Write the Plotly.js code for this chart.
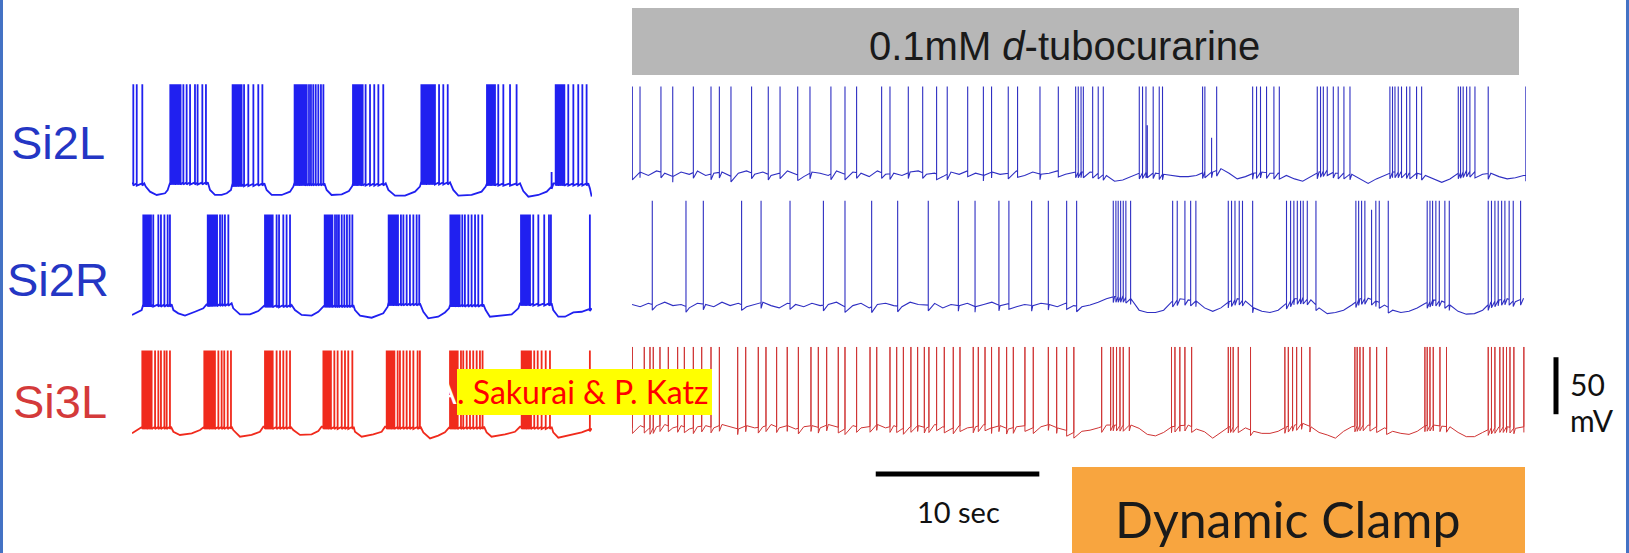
<!DOCTYPE html>
<html>
<head>
<meta charset="utf-8">
<script src="https://cdn.plot.ly/plotly-3.0.1.min.js"></script>
<style>html,body{margin:0;padding:0;background:#fff;}#chart{width:1629px;height:553px;}</style>
</head>
<body>
<div id="chart"></div>
<script>
// ===== DATA (time in s, membrane potential in mV) =====
// Control (left panels): baseline key points, spike times, spike peak
const si2lCtrlBaseT = [0.00,0.75,0.84,1.10,1.51,2.02,2.18,2.28,2.34,4.63,4.77,5.07,5.48,5.79,6.05,6.13,8.09,8.23,8.54,9.15,9.66,9.86,9.92,11.76,11.90,12.20,12.82,13.26,13.47,13.51,15.51,15.67,16.08,16.69,17.30,17.60,17.67,19.44,19.64,19.95,20.76,21.37,21.62,21.70,23.72,23.92,24.23,24.84,25.35,25.61,25.77,27.89,27.99,28.10];
const si2lCtrlBaseV = [-38.9,-38.9,-41.8,-46.2,-49.1,-47.6,-44.7,-40.4,-38.0,-38.0,-44.7,-49.1,-49.1,-47.6,-44.7,-39.8,-38.9,-44.7,-49.1,-49.1,-46.2,-41.8,-38.9,-38.9,-44.7,-49.1,-48.5,-45.6,-41.2,-38.9,-38.9,-44.7,-49.7,-49.7,-46.2,-41.8,-38.0,-38.0,-44.7,-49.7,-49.1,-46.2,-41.8,-38.9,-38.9,-45.6,-50.6,-49.1,-46.2,-42.7,-38.9,-38.9,-43.3,-50.6];
const si2lCtrlSpikeT = [0.08,0.29,0.63,
 2.34,2.40,2.47,2.53,2.59,2.65,2.73,2.81,2.89,2.97,3.14,3.34,3.55,3.85,4.01,4.30,4.52,
 6.15,6.21,6.28,6.34,6.40,6.46,6.54,6.62,6.70,6.85,7.11,7.42,7.72,7.97,
 9.94,10.00,10.07,10.13,10.19,10.25,10.33,10.41,10.49,10.57,10.68,10.82,10.94,11.08,11.23,11.39,11.55,11.70,
 13.51,13.57,13.63,13.69,13.75,13.83,13.92,14.00,14.10,14.28,14.55,14.81,15.06,15.36,
 17.69,17.75,17.81,17.87,17.93,17.99,18.07,18.15,18.24,18.32,18.42,18.52,18.77,19.03,19.30,
 21.70,21.76,21.82,21.88,21.94,22.03,22.11,22.19,22.39,22.70,23.11,23.51,
 25.90,25.96,26.02,26.08,26.16,26.24,26.32,26.43,26.67,26.98,27.28,27.53,27.79];
const si2lCtrlPeak = 48;
const si2lCtrlSmallT = [25.65];
const si2lCtrlSmallV = [-29];

const si2rCtrlBaseT = [0.00,0.59,0.69,2.42,2.53,2.83,3.24,3.85,4.36,4.56,6.09,6.19,6.60,7.21,7.72,8.03,8.09,9.76,9.96,10.37,10.98,11.39,11.70,11.76,13.53,13.63,13.94,14.65,15.36,15.63,15.67,17.60,17.81,18.11,18.72,19.13,19.38,19.44,21.48,21.62,21.88,22.60,23.21,23.62,23.72,25.65,25.75,26.06,26.47,26.98,27.49,27.85,28.10];
const si2rCtrlBaseV = [-48.2,-43.9,-38.9,-38.9,-43.9,-46.8,-48.8,-45.4,-42.4,-38.9,-38.0,-42.4,-47.7,-47.7,-44.8,-41.0,-39.5,-39.5,-43.9,-48.2,-48.8,-45.4,-41.0,-39.5,-39.5,-43.9,-48.8,-50.6,-46.8,-41.0,-38.0,-38.0,-45.4,-51.2,-49.7,-46.0,-42.4,-38.9,-38.9,-43.9,-49.7,-48.8,-47.7,-42.4,-38.0,-38.0,-43.9,-49.7,-49.7,-46.0,-45.4,-43.3,-42.4];
const si2rCtrlSpikeT = [0.69,0.75,0.82,0.88,0.94,1.00,1.08,1.16,1.30,1.61,1.77,1.98,2.18,2.32,
 4.63,4.69,4.75,4.81,4.87,4.93,5.01,5.09,5.20,5.38,5.52,5.68,5.89,
 8.13,8.19,8.25,8.31,8.37,8.44,8.52,8.60,8.84,8.99,9.25,9.45,9.66,
 11.78,11.84,11.90,11.96,12.02,12.08,12.16,12.25,12.41,12.53,12.65,12.82,12.98,13.14,13.30,13.47,
 15.69,15.75,15.81,15.87,15.93,15.99,16.08,16.16,16.26,16.44,16.59,16.79,16.99,17.20,17.40,17.56,
 19.46,19.52,19.58,19.64,19.70,19.76,19.85,19.93,20.03,20.19,20.35,20.56,20.76,20.97,21.17,21.41,
 23.78,23.84,23.90,23.96,24.02,24.08,24.17,24.25,24.33,24.53,24.84,25.20,25.49,25.61,
 27.99];
const si2rCtrlPeak = 40;

const si3lCtrlBaseT = [0.00,0.49,0.59,2.38,2.53,2.93,3.65,4.16,4.36,6.09,6.19,6.60,7.31,7.82,8.03,9.70,9.86,10.27,10.98,11.39,11.59,13.55,13.63,14.04,14.75,15.26,15.47,17.64,17.81,18.22,18.72,19.13,19.34,19.44,21.52,21.68,21.98,22.80,23.41,23.72,25.65,25.75,26.06,26.87,27.49,27.85,28.10];
const si3lCtrlBaseV = [-46.8,-42.4,-41.0,-41.0,-45.4,-48.2,-46.8,-43.9,-41.0,-41.0,-43.9,-49.7,-48.2,-45.4,-41.0,-41.0,-43.9,-48.2,-47.7,-44.7,-41.0,-41.0,-45.4,-49.7,-47.7,-45.4,-41.0,-41.0,-45.9,-51.2,-48.8,-45.9,-42.4,-41.0,-41.0,-45.9,-49.7,-47.7,-45.4,-41.0,-41.0,-45.9,-50.6,-48.2,-45.9,-43.9,-42.4];
const si3lCtrlSpikeT = [0.63,0.69,0.75,0.82,0.88,0.94,1.02,1.10,1.20,1.41,1.61,1.77,1.98,2.12,2.32,
 4.42,4.48,4.54,4.60,4.67,4.73,4.81,4.89,4.97,5.07,5.28,5.48,5.64,5.85,6.05,
 8.13,8.19,8.25,8.31,8.37,8.44,8.52,8.60,8.84,9.05,9.25,9.45,9.66,
 11.70,11.76,11.82,11.88,11.94,12.00,12.08,12.16,12.37,12.57,12.82,13.02,13.22,13.47,
 15.57,15.63,15.69,15.75,15.81,15.87,15.95,16.04,16.24,16.38,16.59,16.79,16.99,17.20,17.46,17.60,
 19.44,19.50,19.56,19.62,19.68,19.74,19.83,19.91,20.11,20.25,20.46,20.66,20.86,21.07,21.27,21.43,
 23.82,23.88,23.94,24.00,24.06,24.12,24.21,24.29,24.39,24.59,24.80,25.04,25.29,25.55,
 27.99];
const si3lCtrlPeak = 26;

// 0.1 mM d-tubocurarine + dynamic clamp (right panels): baseline sampled every 0.5 s
const dtcSampleInterval = 0.5;
const si2lDtcBaseV = [-31,-29,-32,-28,-30,-33,-29,-31,-28,-32,-30,-29,-33,-30,-28,-31,-29,-32,-30,-28,
 -31,-33,-29,-30,-32,-28,-31,-29,-30,-33,-28,-31,-30,-32,-29,-28,-31,-30,-33,-29,
 -31,-28,-30,-32,-29,-31,-30,-28,-32,-29,-31,-30,-28,-31,-29,
 -29,-29,-30,-32,-37,-36,-33,-30,-29,-30,-31,-32,-33,-33,-32,-29,-29,-26,-30,-35,
 -33,-30,-29,-30,-30,-32,-35,-37,-33,-29,-27,-30,-30,-31,-35,-39,-35,-32,-29,-29,
 -30,-30,-32,-35,-38,-35,-30,-28,-29,-31,-30,-33,-35,-34,-32];
const si2lDtcSpikeT = [0.02,0.49,1.77,2.49,3.75,4.83,5.34,6.05,7.31,8.33,9.05,10.13,10.88,12.16,13.02,13.73,15.26,15.77,16.89,17.77,18.62,19.27,20.52,21.48,21.98,23.00,23.57,24.94,26.06,
 27.12,27.28,27.45,27.59,28.16,28.50,28.81,
 31.01,31.21,31.42,31.86,32.23,32.43,
 34.88,35.02,35.74,
 37.94,38.18,38.42,38.79,39.24,39.57,
 41.89,42.09,42.26,42.50,42.87,43.17,43.52,43.89,
 46.33,46.49,46.64,46.84,47.04,47.35,47.55,47.96,48.27,
 50.51,50.65,50.81,51.02,51.22,51.53,52.34,54.64];
const si2lDtcPeak = 46;
const si2lDtcSmallT = [31.50, 35.43];
const si2lDtcSmallV = [12, 1];

const si2rDtcBaseV = [-39,-41,-38,-40,-37,-40,-39,-42,-38,-39,-41,-37,-40,-38,-41,-39,-37,-40,-42,-38,
 -39,-41,-38,-40,-39,-37,-41,-40,-38,-42,-39,-38,-40,-41,-37,-39,-40,-38,-42,-39,
 -40,-38,-41,-39,-37,-40,-38,-41,-39,-40,-38,-39,-41,-38,-40,
 -41,-39.5,-37,-34,-32,-32,-34,-44,-46,-46,-44,-36.5,-34,-35,-36,-42,-45,-42,-36.5,-34,
 -36,-42,-45,-46,-44,-38,-34,-33.5,-35,-42,-47,-46,-44,-39.5,-34,-33.5,-36,-39.5,-44,-46,
 -45,-42,-38,-35,-36,-39.5,-45,-47.5,-47,-44,-37,-35,-34,-36.5,-33.5];
const si2rDtcSpikeT = [1.24,3.30,4.36,6.70,7.89,9.66,11.70,13.02,14.65,16.24,18.11,19.95,20.97,22.43,23.04,24.43,25.45,26.57,27.18,
 29.42,29.58,29.72,29.87,30.03,30.19,30.48,
 33.05,33.33,33.80,34.15,34.47,
 36.45,36.65,36.86,37.12,37.32,37.94,
 40.01,40.26,40.46,40.67,40.87,41.03,41.28,41.81,
 44.25,44.42,44.60,44.80,45.47,45.68,46.23,
 48.61,48.78,48.94,49.14,49.35,49.69,49.96,
 52.34,52.54,52.75,52.95,53.16,53.36,53.62,53.87,54.32];
const si2rDtcPeak = 52;
const si2rDtcSmallT = [45.21];
const si2rDtcSmallV = [44];

const si3lDtcBaseV = [-42,-40,-43,-41,-39,-42,-40,-43,-41,-40,-42,-39,-41,-43,-40,-42,-41,-39,-42,-40,
 -43,-41,-40,-42,-39,-41,-43,-40,-42,-41,-39,-42,-40,-43,-41,-40,-42,-39,-41,-43,
 -40,-42,-41,-39,-42,-40,-43,-41,-40,-42,-41,-39,-42,-44,-46,
 -45,-44,-42,-39.5,-39.5,-40,-39.5,-42.4,-47.7,-49,-46,-41,-40,-39.5,-43,-45.4,-51,-46,-41,-41,
 -42,-45,-46.8,-46.8,-45,-41,-39.5,-38,-41,-46,-48.2,-51,-45,-41,-39.5,-39.5,-41,-42,-45,-46.8,
 -47.7,-45,-40,-39.5,-40.5,-41,-46,-49.7,-49.7,-46,-42.4,-41,-41,-42.4,-41];
const si3lDtcSpikeT = [0.02,0.75,1.10,1.30,1.71,2.22,2.79,3.20,3.75,4.26,4.83,5.34,6.46,6.95,7.72,8.19,8.84,9.49,10.17,10.94,11.39,11.90,12.61,13.02,13.73,14.55,14.96,15.77,16.18,16.59,17.05,17.46,17.87,18.15,18.62,19.09,19.64,20.05,20.86,21.17,21.58,21.98,22.43,22.90,23.31,24.02,24.53,25.45,25.96,26.57,27.01,
 28.71,29.26,29.42,29.62,29.83,30.03,30.40,
 32.98,33.19,33.49,33.80,34.21,
 36.45,36.59,36.75,37.06,37.81,
 39.91,40.12,40.38,40.63,40.93,41.44,
 44.19,44.33,44.50,44.70,45.11,45.52,46.13,
 48.47,48.61,48.78,48.98,49.39,49.79,
 52.34,52.54,52.75,53.05,53.26,53.46,53.67,53.91,54.52];
const si3lDtcPeak = 29;

const cellLabels = ['Si2L', 'Si2R', 'Si3L'];
const drugLabel = '0.1mM <i>d</i>-tubocurarine';
const timeBarSeconds = 10;
const voltBarMillivolts = 50;

// ===== BUILD TRACES =====
function footAt(T, V, t) {
  if (t <= T[0]) return V[0];
  for (let i = 1; i < T.length; i++) {
    if (t <= T[i]) { const f = (t - T[i-1]) / (T[i] - T[i-1]); return V[i-1] + f * (V[i] - V[i-1]); }
  }
  return V[V.length - 1];
}
function buildTrace(T, V, spikeT, peak, ahp, extraT, extraV) {
  const ev = [];
  T.forEach((t, i) => ev.push({t: t, k: 0, v: V[i]}));
  spikeT.forEach(t => ev.push({t: t, k: 1, v: peak}));
  (extraT || []).forEach((t, i) => ev.push({t: t, k: 1, v: extraV[i]}));
  ev.sort((a, b) => (a.t - b.t) || (a.k - b.k));
  const x = [], y = [];
  ev.forEach(e => {
    if (e.k === 0) { x.push(e.t); y.push(e.v); }
    else { const f = footAt(T, V, e.t); x.push(e.t, e.t, e.t); y.push(f, e.v, f - ahp); }
  });
  return {x: x, y: y};
}
const gridT = arr => arr.map((_, i) => i * dtcSampleInterval);

const BLUE_L = '#2020f0', BLUE_R = '#2f2fc2', RED_L = '#f02a1c', RED_R = '#cf3434';
function tr(d, xa, ya, color, width) {
  return {type: 'scatter', mode: 'lines', x: d.x, y: d.y, xaxis: xa, yaxis: ya,
    line: {color: color, width: width}, hoverinfo: 'skip', showlegend: false};
}
const data = [
  tr(buildTrace(si2lCtrlBaseT, si2lCtrlBaseV, si2lCtrlSpikeT, si2lCtrlPeak, 2, si2lCtrlSmallT, si2lCtrlSmallV), 'x', 'y', BLUE_L, 1.8),
  tr(buildTrace(si2rCtrlBaseT, si2rCtrlBaseV, si2rCtrlSpikeT, si2rCtrlPeak, 2), 'x', 'y2', BLUE_L, 1.8),
  tr(buildTrace(si3lCtrlBaseT, si3lCtrlBaseV, si3lCtrlSpikeT, si3lCtrlPeak, 2), 'x', 'y3', RED_L, 1.8),
  tr(buildTrace(gridT(si2lDtcBaseV), si2lDtcBaseV, si2lDtcSpikeT, si2lDtcPeak, 5, si2lDtcSmallT, si2lDtcSmallV), 'x2', 'y', BLUE_R, 1.1),
  tr(buildTrace(gridT(si2rDtcBaseV), si2rDtcBaseV, si2rDtcSpikeT, si2rDtcPeak, 5, si2rDtcSmallT, si2rDtcSmallV), 'x2', 'y2', BLUE_R, 1.1),
  tr(buildTrace(gridT(si3lDtcBaseV), si3lDtcBaseV, si3lDtcSpikeT, si3lDtcPeak, 5), 'x2', 'y3', RED_R, 1.0)
];

// ===== LAYOUT =====
const W = 1629, H = 553;
const px = v => v / W, py = v => 1 - v / H;
const hidden = {visible: false, fixedrange: true};
const ARIAL = 'Liberation Sans, Arial, sans-serif';
const LATO = 'Lato, Carlito, Calibri, sans-serif';
function ann(text, x, y, size, color, family, xanchor) {
  return {text: text, x: px(x), y: py(y), xref: 'paper', yref: 'paper', showarrow: false,
    xanchor: xanchor || 'center', yanchor: 'middle', font: {family: family, size: size, color: color}};
}

const layout = {
  width: W, height: H, margin: {l: 0, r: 0, t: 0, b: 0},
  paper_bgcolor: '#ffffff', plot_bgcolor: 'rgba(0,0,0,0)', showlegend: false,
  xaxis: Object.assign({domain: [px(132), px(592)], range: [0, 28.12]}, hidden),
  xaxis2: Object.assign({domain: [px(632), px(1526)], range: [0, 54.65]}, hidden),
  yaxis: Object.assign({domain: [py(205), py(70)], range: [-57.9, 60.5]}, hidden),
  yaxis2: Object.assign({domain: [py(325), py(195)], range: [-57.0, 57.0]}, hidden),
  yaxis3: Object.assign({domain: [py(450), py(330)], range: [-61.4, 43.9]}, hidden),
  shapes: [
    {type: 'rect', xref: 'paper', yref: 'paper', x0: 0, x1: px(3), y0: 0, y1: 1, fillcolor: '#4472c4', line: {width: 0}},
    {type: 'rect', xref: 'paper', yref: 'paper', x0: px(1626), x1: 1, y0: 0, y1: 1, fillcolor: '#4472c4', line: {width: 0}},
    {type: 'rect', xref: 'paper', yref: 'paper', x0: px(632), x1: px(1519), y0: py(75), y1: py(8), fillcolor: '#b7b7b7', line: {width: 0}, layer: 'below'},
    {type: 'rect', xref: 'paper', yref: 'paper', x0: px(1072), x1: px(1525), y0: 0, y1: py(467), fillcolor: '#f8a53f', line: {width: 0}, layer: 'above'},
    {type: 'line', xref: 'x2', yref: 'paper', x0: 14.9, x1: 14.9 + timeBarSeconds, y0: py(474), y1: py(474), line: {color: '#000000', width: 5}},
    {type: 'line', xref: 'paper', yref: 'y3', x0: px(1556), x1: px(1556), y0: -30, y1: -30 + voltBarMillivolts, line: {color: '#000000', width: 5}},
    {type: 'rect', xref: 'paper', yref: 'paper', x0: px(457), x1: px(712), y0: py(415), y1: py(369), fillcolor: '#ffff00', line: {width: 0}, layer: 'above'}
  ],
  annotations: [
    ann(cellLabels[0], 58, 143, 47, '#2436c4', ARIAL),
    ann(cellLabels[1], 58, 279, 47, '#2436c4', ARIAL),
    ann(cellLabels[2], 60, 401, 47, '#d43a3a', ARIAL),
    ann(drugLabel, 1064, 46, 40, '#1a1a1a', ARIAL),
    ann(timeBarSeconds + ' sec', 958, 511, 29, '#111111', LATO),
    ann('Dynamic Clamp', 1287, 519, 50, '#1a1a1a', LATO),
    ann(String(voltBarMillivolts), 1568, 384, 30, '#111111', LATO, 'left'),
    ann('mV', 1568, 420, 30, '#111111', LATO, 'left'),
    ann('A', 459, 391, 32, '#ffffff', LATO, 'right'),
    ann('. Sakurai &amp; P. Katz', 455, 391, 32, '#ff0000', LATO, 'left')
  ]
};

Plotly.newPlot('chart', data, layout, {staticPlot: true, displayModeBar: false});
</script>
</body>
</html>
